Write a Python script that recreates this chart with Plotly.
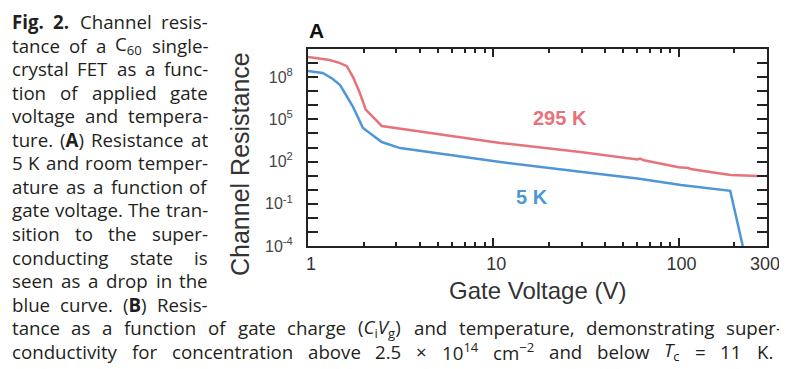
import re
import plotly.graph_objects as go

# ---------------- data ----------------
v_295 = [1.0, 1.31, 1.49, 1.62, 1.75, 1.9, 2.05, 2.5, 10.9, 29.5, 60, 62, 65, 100, 113, 116, 148, 191, 268]
r_295 = [2.7e9, 1.66e9, 1.0e9, 6.0e8, 1.0e8, 8.0e6, 5.0e5, 3.4e4, 2.1e3, 480, 140, 165, 123, 40, 35, 30, 18, 11, 9.3]

v_5 = [1.0, 1.2, 1.35, 1.49, 1.75, 1.98, 2.5, 3.14, 5.86, 10.9, 29.5, 60, 103, 150, 190, 222]
r_5 = [2.7e8, 2.0e8, 8.0e7, 2.75e7, 7.6e5, 2.45e4, 2.45e3, 910, 295, 93, 19, 6.3, 2.2, 1.2, 0.83, 1.0e-4]

x_tick_vals = [1, 10, 100, 300]
x_tick_text = ["1", "10", "100", "300\u00a0\u00a0"]
x_minor_vals = [2, 3, 4, 5, 6, 7, 8, 9, 20, 30, 40, 50, 60, 70, 80, 90, 200]
y_label_exps = [-4, -1, 2, 5, 8]
y_minor_exps = [-3, -2, 0, 1, 3, 4, 6, 7, 9, 10]

series_labels = ["295 K", "5 K"]
panel_label = "A"
x_title = "Gate Voltage (V)"
y_title = "Channel Resistance"

caption_column = [
    "<b>Fig. 2.</b> Channel resis-",
    "tance of a C<sub>60</sub> single-",
    "crystal FET as a func-",
    "tion of applied gate",
    "voltage and tempera-",
    "ture. (<b>A</b>) Resistance at",
    "5 K and room temper-",
    "ature as a function of",
    "gate voltage. The tran-",
    "sition to the super-",
    "conducting state is",
    "seen as a drop in the",
    "blue curve. (<b>B</b>) Resis-",
]
caption_full = [
    "tance as a function of gate charge (<i>C</i><sub>i</sub><i>V</i><sub>g</sub>) and temperature, demonstrating super-",
    "conductivity for concentration above 2.5 \u00d7 10<sup>14</sup> cm<sup>\u22122</sup> and below <i>T</i><sub>c</sub> = 11 K.",
]

# ---------------- layout geometry (page pixels) ----------------
PAGE_W, PAGE_H = 787, 369
OFF = 8                      # default body margin of the html page
W, H = PAGE_W - OFF, PAGE_H - OFF
PL, PR, PT, PB = 308, 767, 49, 246   # plot area in page pixels
RED = "#e8727b"
BLUE = "#4e96d6"
AXC = "#222222"
CHART_FONT = "Liberation Sans, Arial, sans-serif"
CAP_FONT = "Open Sans"
CAP_SIZE = 18.7
CAP_COLOR = "#231f20"


def px_x(x):
    return (x - PL) / (PR - PL)


def px_y(y):
    return (PB - y) / (PB - PT)


# approximate Open Sans advance widths (em)
OS_W = {
    ' ': 0.26, 'a': 0.556, 'b': 0.613, 'c': 0.476, 'd': 0.613, 'e': 0.561, 'f': 0.339,
    'g': 0.548, 'h': 0.614, 'i': 0.253, 'j': 0.253, 'k': 0.525, 'l': 0.253, 'm': 0.93,
    'n': 0.614, 'o': 0.604, 'p': 0.613, 'q': 0.613, 'r': 0.408, 's': 0.477, 't': 0.353,
    'u': 0.614, 'v': 0.501, 'w': 0.778, 'x': 0.524, 'y': 0.502, 'z': 0.477,
    '.': 0.266, ',': 0.244, '-': 0.322, '(': 0.296, ')': 0.296, '=': 0.572,
    '\u00d7': 0.572, '\u2212': 0.572,
    'A': 0.633, 'B': 0.648, 'C': 0.631, 'E': 0.556, 'F': 0.516, 'G': 0.72, 'K': 0.62,
    'R': 0.64, 'S': 0.55, 'T': 0.553, 'V': 0.6,
}


def measure(s, size):
    total = 0.0
    scale = 1.0
    bold = False
    for tok in re.split(r'(<[^>]+>)', s):
        if tok.startswith('<'):
            t = tok.strip('<>').lower()
            if t in ('sub', 'sup'):
                scale = 0.7
            elif t in ('/sub', '/sup'):
                scale = 1.0
            elif t == 'b':
                bold = True
            elif t == '/b':
                bold = False
            continue
        for ch in tok:
            w = OS_W.get(ch, 0.572 if ch.isdigit() else 0.56)
            if bold:
                w *= 1.06
            total += w * size * scale
    return total


def split_words(text):
    """Split on spaces, keeping formatting tags balanced within each word."""
    out = []
    stack = []
    for w in text.split(' '):
        prefix = ''.join('<%s>' % t for t in stack)
        for tag in re.findall(r'<([^>]+)>', w):
            tag = tag.lower()
            if tag.startswith('/'):
                if stack and stack[-1] == tag[1:]:
                    stack.pop()
            else:
                stack.append(tag)
        suffix = ''.join('</%s>' % t for t in reversed(stack))
        out.append(prefix + w + suffix)
    return out


annotations = []


def cap_ann(text, x, xanchor, ycen):
    annotations.append(dict(text=text, x=px_x(x), xanchor=xanchor, y=px_y(ycen),
                            yanchor='middle', xref='paper', yref='paper', showarrow=False,
                            borderpad=0, borderwidth=0,
                            font=dict(family=CAP_FONT, size=CAP_SIZE, color=CAP_COLOR)))


def place_line(text, left, right, ycen, justify):
    words = split_words(text)
    widths = [measure(w, CAP_SIZE) for w in words]
    n = len(words)
    if justify and n > 1:
        gap = (right - left - sum(widths)) / (n - 1)
    else:
        gap = measure(' ', CAP_SIZE)
    x = left
    for i, w in enumerate(words):
        if justify and i == n - 1 and n > 1:
            cap_ann(w, right, 'right', ycen)
        else:
            cap_ann(w, x, 'left', ycen)
        x += widths[i] + gap


LINE0 = 21.5
LSTEP = 23.55
for i, line in enumerate(caption_column):
    place_line(line, 12, 208, LINE0 + LSTEP * i, True)
n_col = len(caption_column)
place_line(caption_full[0], 12, 782, LINE0 + LSTEP * n_col, True)
place_line(caption_full[1], 12, 773, LINE0 + LSTEP * (n_col + 1), True)

# chart texts
annotations += [
    dict(text="<b>" + panel_label + "</b>", x=px_x(316), y=px_y(30), xanchor='center', yanchor='middle',
         xref='paper', yref='paper', showarrow=False, font=dict(family=CHART_FONT, size=21, color="#111")),
    dict(text=y_title, x=px_x(240), y=px_y(164), xanchor='center', yanchor='middle', textangle=-90,
         xref='paper', yref='paper', showarrow=False, font=dict(family=CHART_FONT, size=25, color="#333")),
    dict(text=x_title, x=px_x(537), y=px_y(290), xanchor='center', yanchor='middle',
         xref='paper', yref='paper', showarrow=False, font=dict(family=CHART_FONT, size=24, color="#333")),
    dict(text="<b>" + series_labels[0] + "</b>", x=px_x(560), y=px_y(118), xanchor='center', yanchor='middle',
         xref='paper', yref='paper', showarrow=False, font=dict(family=CHART_FONT, size=20, color=RED)),
    dict(text="<b>" + series_labels[1] + "</b>", x=px_x(532), y=px_y(197), xanchor='center', yanchor='middle',
         xref='paper', yref='paper', showarrow=False, font=dict(family=CHART_FONT, size=20, color=BLUE)),
]

fig = go.Figure()
fig.add_trace(go.Scatter(x=v_295, y=r_295, mode='lines', line=dict(color=RED, width=2.5),
                         hoverinfo='skip', showlegend=False))
fig.add_trace(go.Scatter(x=v_5, y=r_5, mode='lines', line=dict(color=BLUE, width=2.5),
                         hoverinfo='skip', showlegend=False))

y_tick_vals = [10.0 ** e for e in y_label_exps]
y_tick_text = ["10<sup>%d</sup>" % e for e in y_label_exps]
y_minor_vals = [10.0 ** e for e in y_minor_exps]

fig.update_layout(
    template='none',
    width=W, height=H,
    margin=dict(l=PL - OFF, r=PAGE_W - PR, t=PT - OFF, b=PAGE_H - PB, pad=0, autoexpand=False),
    paper_bgcolor='white', plot_bgcolor='white',
    annotations=annotations,
    xaxis=dict(type='log', range=[0, 2.4771], showgrid=False, zeroline=False, automargin=False,
               showline=True, linecolor=AXC, linewidth=2, mirror='ticks',
               ticks='inside', ticklen=8, tickwidth=1.5, tickcolor=AXC,
               tickmode='array', tickvals=x_tick_vals, ticktext=x_tick_text,
               tickfont=dict(family=CHART_FONT, size=18, color="#333"), ticklabelstandoff=0,
               ticklabelshift=3, ticklabeloverflow='allow',
               minor=dict(tickmode='array', tickvals=x_minor_vals, ticks='inside', ticklen=4,
                          tickwidth=1.5, tickcolor=AXC, showgrid=False)),
    yaxis=dict(type='log', range=[-4, 10], showgrid=False, zeroline=False, automargin=False,
               showline=True, linecolor=AXC, linewidth=2, mirror='ticks',
               ticks='inside', ticklen=10, tickwidth=1.5, tickcolor=AXC,
               tickmode='array', tickvals=y_tick_vals, ticktext=y_tick_text,
               tickfont=dict(family=CHART_FONT, size=16, color="#444"), ticklabelstandoff=10,
               minor=dict(tickmode='array', tickvals=y_minor_vals, ticks='inside', ticklen=10,
                          tickwidth=1.5, tickcolor=AXC, showgrid=False)),
)

fig.write_html("out.html")
